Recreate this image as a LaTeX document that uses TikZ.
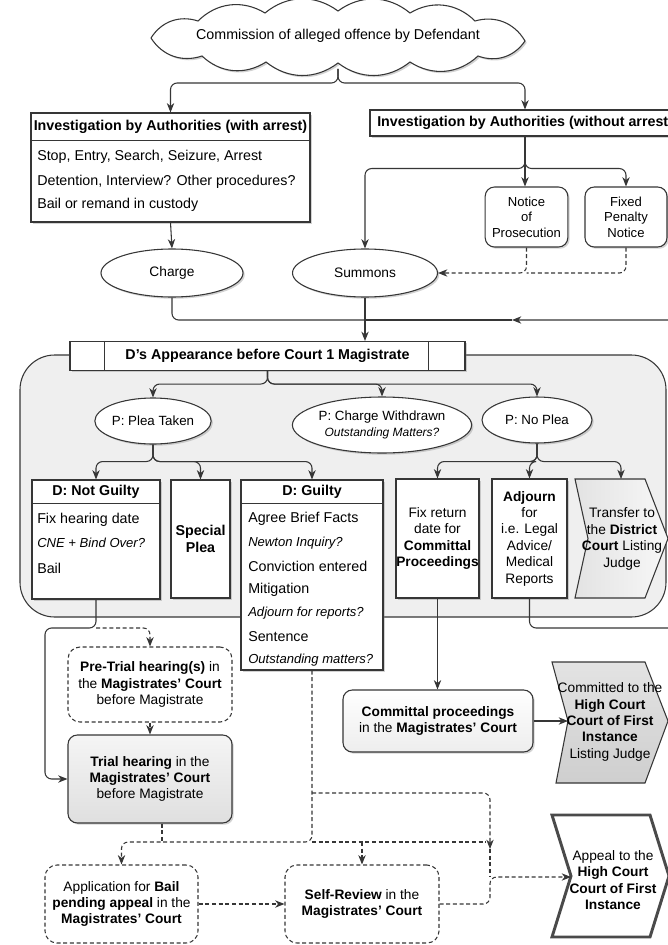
\documentclass[tikz,border=0pt]{standalone}
\usepackage{fontspec}
\setmainfont{Liberation Sans}
\usetikzlibrary{shapes.geometric,shapes.symbols,arrows.meta,calc,shadows}
\definecolor{linec}{HTML}{363636}
\definecolor{bgc}{HTML}{EFEFEF}
\begin{document}
\begin{tikzpicture}[x=0.75pt,y=-0.75pt,
 conn/.style={draw=linec,line width=0.8pt},
 arr/.style={conn,-{Stealth[length=7pt,width=5.5pt,inset=2.2pt]}},
 rc/.style={rounded corners=5pt},
 dashc/.style={conn,dash pattern=on 3pt off 2pt},
 darr/.style={arr,dash pattern=on 3pt off 2pt},
 shd/.style={drop shadow={shadow xshift=1.3pt,shadow yshift=-1.3pt,opacity=0.35}},
 box/.style={draw=linec,line width=0.8pt,fill=white,shd},
 rbox/.style={box,rounded corners=7pt},
 dbox/.style={draw=linec,line width=0.8pt,fill=white,rounded corners=9pt,dash pattern=on 3pt off 2pt},
 ell/.style={ellipse,box},
 txt/.style={font=\fontsize{10.3}{12.3}\selectfont,align=center,inner sep=0pt},
 etxt/.style={font=\fontsize{10}{12}\selectfont,align=center,inner sep=0pt},
 stxt/.style={font=\fontsize{9.8}{11.6}\selectfont,align=center,inner sep=0pt},
 item/.style={font=\fontsize{10.7}{13}\selectfont,inner sep=0pt,anchor=west},
 iitem/.style={font=\fontsize{9.8}{12}\selectfont\itshape,inner sep=0pt,anchor=west},
 hdr/.style={font=\fontsize{10.7}{13}\selectfont\bfseries,inner sep=0pt},
 chev/.style={draw=linec,line width=0.8pt},
 puff/.style={bend left=38}
]
\useasboundingbox (0,0) rectangle (667,945);
\fill[white] (0,0) rectangle (667,945);

% background region
\draw[conn,fill=bgc,rounded corners=26pt] (20,355) rectangle (666,617);

% top cloud
\draw[conn,fill=white,shd] (151,38) to[puff] (198,21) to[puff] (265,13) to[puff] (338,11)
   to[puff] (410,13) to[puff] (475,21) to[puff] (525,41) to[puff] (478,56) to[puff] (410,62)
   to[puff] (338,63) to[puff] (266,62) to[puff] (202,56) to[puff] (151,38);
\node[font=\fontsize{10.7}{13}\selectfont,inner sep=0pt] (cloud) at (338,36) {Commission of alleged offence by Defendant};
\coordinate (cloudS) at (338,69);

% investigation with arrest
\node[box,minimum width=209.25pt,minimum height=81.75pt] (inv1) at (170.5,167.5) {};
\draw[conn] ($(inv1.north west)+(0,28)$) -- ($(inv1.north east)+(0,28)$);
\node[hdr] (inv1h) at ($(inv1.north)+(0,14)$) {Investigation by Authorities (with arrest)};
\node[item] (inv1a) at (37,157) {Stop, Entry, Search, Seizure, Arrest};
\node[item] (inv1b) at (37,182) {Detention, Interview? Other procedures?};
\node[item] (inv1c) at (37,205) {Bail or remand in custody};

% investigation without arrest
\node[box,minimum width=232.5pt,minimum height=19.5pt] (inv2) at (525,123) {};
\node[hdr,anchor=west] (inv2h) at (377,123) {Investigation by Authorities (without arrest};

\node[rbox,stxt,minimum width=62pt,minimum height=45pt] (notice) at (526.5,217) {Notice\\of\\Prosecution};
\node[rbox,stxt,minimum width=61.5pt,minimum height=45pt] (fixed) at (626,217) {Fixed\\Penalty\\Notice};

\node[ell,txt,minimum width=106.5pt,minimum height=36pt] (charge) at (172,273) {Charge};
\node[ell,txt,minimum width=108.75pt,minimum height=36pt] (summons) at (365,273) {Summons};

% appearance bar
\node[box,hdr,minimum width=296.25pt,minimum height=21.75pt] (bar) at (267.5,356) {D's Appearance before Court 1 Magistrate};
\draw[conn] ($(bar.north west)+(35,0)$) -- ($(bar.south west)+(35,0)$);
\draw[conn] ($(bar.north east)+(-37,0)$) -- ($(bar.south east)+(-37,0)$);

% ellipses
\node[ell,etxt,minimum width=85.5pt,minimum height=34.5pt] (plea) at (153,421) {P: Plea Taken};
\node[ell,etxt,minimum width=120pt,minimum height=42pt] (withdrawn) at (382,425) {P: Charge Withdrawn\\{\fontsize{9}{11}\selectfont\itshape Outstanding Matters?}};
\node[ell,etxt,minimum width=82.5pt,minimum height=34.5pt] (noplea) at (537,420) {P: No Plea};

% not guilty
\node[box,minimum width=96pt,minimum height=89.25pt] (ng) at (96,539.5) {};
\draw[conn] ($(ng.north west)+(0,24)$) -- ($(ng.north east)+(0,24)$);
\node[hdr] (ngh) at ($(ng.north)+(0,12.5)$) {D: Not Guilty};
\node[item] (ng1) at (37,520) {Fix hearing date};
\node[iitem] (ng2) at (37,543) {CNE + Bind Over?};
\node[item] (ng3) at (37,568) {Bail};

% special plea
\node[box,txt,font=\fontsize{10.7}{12.5}\selectfont\bfseries,minimum width=44.25pt,minimum height=88.5pt] (sp) at (200.5,539) {Special\\Plea};

% guilty
\node[box,minimum width=106.5pt,minimum height=142.5pt] (gu) at (312,575) {};
\draw[conn] ($(gu.north west)+(0,24)$) -- ($(gu.north east)+(0,24)$);
\node[hdr] (guh) at ($(gu.north)+(0,12.5)$) {D: Guilty};
\node[item] (g1) at (248,519) {Agree Brief Facts};
\node[iitem] (g2) at (248,543) {Newton Inquiry?};
\node[item] (g3) at (248,566) {Conviction entered};
\node[item] (g4) at (248,590) {Mitigation};
\node[iitem] (g5) at (248,613) {Adjourn for reports?};
\node[item] (g6) at (248,637) {Sentence};
\node[iitem] (g7) at (248,660) {Outstanding matters?};

% no plea outcomes
\node[box,txt,minimum width=62.25pt,minimum height=89.25pt] (fr) at (437.5,538.5) {Fix return\\date for\\\textbf{Committal}\\\textbf{Proceedings}};
\node[box,txt,minimum width=56.25pt,minimum height=89.25pt] (adj) at (529.5,538.5) {\textbf{Adjourn}\\for\\i.e. Legal\\Advice/\\Medical\\Reports};

\draw[chev,left color=gray!22,right color=gray!6] (575,479) -- (645,479) -- (668,538.5) -- (645,598) -- (575,598) -- (588,538.5) -- cycle;
\coordinate (trN) at (621,479);
\node[txt] (trt) at (622,539) {Transfer to\\the \textbf{District}\\\textbf{Court} Listing\\Judge};

% pre-trial and trial
\node[dbox,txt,minimum width=123pt,minimum height=56.25pt] (pretrial) at (150,684.5) {\textbf{Pre-Trial hearing(s)} in\\the \textbf{Magistrates' Court}\\before Magistrate};
\node[rbox,txt,top color=gray!8,bottom color=gray!25,minimum width=123pt,minimum height=66pt] (trial) at (150,779) {\textbf{Trial hearing} in the\\\textbf{Magistrates' Court}\\before Magistrate};

% committal
\node[rbox,txt,top color=white,bottom color=gray!14,minimum width=142.5pt,minimum height=46.5pt] (committal) at (438,721) {\textbf{Committal proceedings}\\in the \textbf{Magistrates' Court}};
\draw[chev,top color=gray!22,bottom color=gray!38] (552,662) -- (645,662) -- (668,721) -- (645,783) -- (556,783) -- (568,721) -- cycle;
\coordinate (cmN) at (568,721);
\node[txt] (cmt) at (610,722) {Committed to the\\\textbf{High Court}\\\textbf{Court of First}\\\textbf{Instance}\\Listing Judge};

% bottom row
\node[dbox,txt,minimum width=114.75pt,minimum height=58.5pt] (bailapp) at (121.5,904) {Application for \textbf{Bail}\\\textbf{pending appeal} in the\\\textbf{Magistrates' Court}};
\node[dbox,txt,minimum width=115.5pt,minimum height=58.5pt] (selfrev) at (362,904) {\textbf{Self-Review} in the\\\textbf{Magistrates' Court}};

\draw[draw=linec!90,line width=2.2pt,fill=white,line join=miter] (552,815) -- (650,815) -- (669,876) -- (650,937) -- (552,937) -- (571,876) -- cycle;
\coordinate (apN) at (571,877);
\node[txt] (apt) at (613,880) {Appeal to the\\\textbf{High Court}\\\textbf{Court of First}\\\textbf{Instance}};

% ---------------- connectors ----------------
\draw[arr,rc] (cloudS) -- ++(0,14) -| (inv1.north);
\draw[arr,rc] (cloudS) -- ++(0,14) -| (inv2.north);
\draw[arr] (inv1.south) -- (charge.north);
\draw[arr,rc] (inv2.south) -- ++(0,32) -| (summons.north);
\draw[arr] (inv2.south) -- (inv2.south |- notice.north);
\draw[arr,rc] (inv2.south) -- ++(0,32) -| (fixed.north);
\draw[dashc,rc] (fixed.south) |- (notice.south |- summons.east);
\draw[darr,rc] (notice.south) |- (summons.east);

\coordinate (j1) at (365,320);
\coordinate (ret) at (695,628);
\coordinate (mid) at (512,320);
\draw[conn,rc] (charge.south) |- (j1);
\draw[arr] (summons.south) -- (summons.south |- bar.north);
\draw[arr,rc] (adj.south) |- (ret) |- (mid);
\draw[conn] (mid) -- (j1);

\draw[arr,rc] (bar.south) -- ++(0,13) -| (plea.north);
\draw[arr,rc] (bar.south) -- ++(0,13) -| (withdrawn.north);
\draw[arr,rc] (bar.south) -- ++(0,13) -| (noplea.north);

\draw[arr,rc] (plea.south) -- ++(0,17) -| (ng.north);
\draw[arr,rc] (plea.south) -- ++(0,17) -| (sp.north);
\draw[arr,rc] (plea.south) -- ++(0,17) -| (gu.north);

\draw[arr,rc] (noplea.south) -- ++(0,18) -| (fr.north);
\draw[arr,rc] (noplea.south) -- ++(0,18) -| (adj.north);
\draw[arr,rc] (noplea.south) -- ++(0,18) -| (trN);

\coordinate (ngj) at (96,628);
\coordinate (lft) at (45,628);
\draw[arr,rc] (ng.south) -- (ngj) -- (lft) |- (trial.west);
\draw[darr,rc] (ngj) -| (pretrial.north);
\draw[darr] (pretrial.south) -- (trial.north);

\draw[arr] (fr.south) -- (fr.south |- committal.north);
\draw[arr] (committal.east) -- (cmN);

\coordinate (yb) at (0,842);
\coordinate (yt) at (0,793);
\coordinate (vx) at (490,0);
\coordinate (apj) at (490,877);
\draw[darr,rc] (gu.south) |- (bailapp.north |- yb) -- (bailapp.north);
\draw[dashc] ($(trial.south)+(12,0)$) -- ($(trial.south |- yb)+(12,0)$);
\draw[darr] (selfrev.north |- yb) -- (selfrev.north);
\draw[dashc] (gu.south |- yb) -- ($(vx |- yb)+(-4,0)$);
\draw[darr,rc] (gu.south |- yt) -- (vx |- yt) -- ($(vx |- yb)+(0,7)$);
\draw[dashc] ($(vx |- yb)+(0,7)$) -- (apj);
\draw[darr,rc] (selfrev.east) -| (apj) -- (apN);
\draw[darr] (bailapp.east) -- (selfrev.west);
\end{tikzpicture}
\end{document}
